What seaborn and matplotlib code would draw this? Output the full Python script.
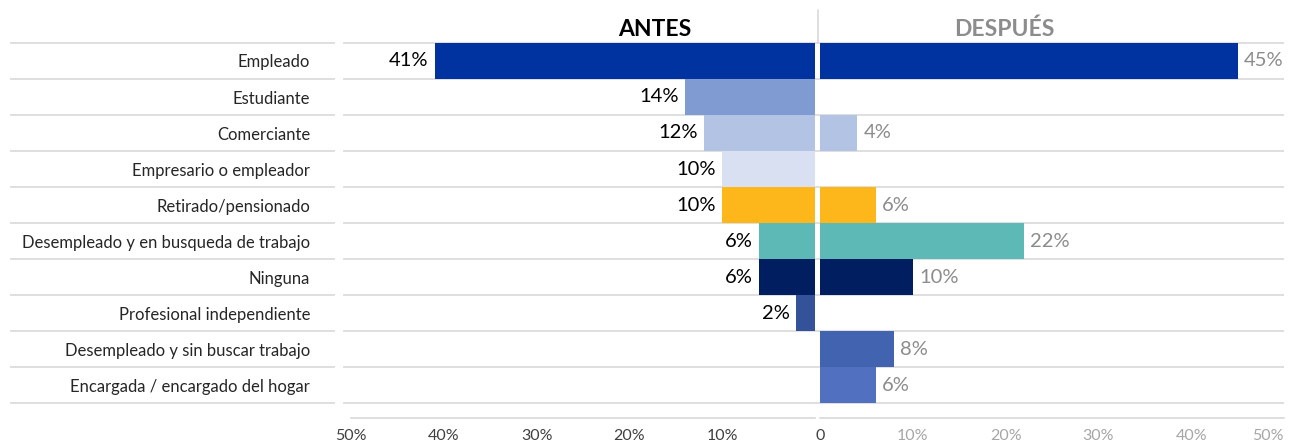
import matplotlib
matplotlib.use("Agg")
import matplotlib.pyplot as plt
import matplotlib.transforms as mtransforms
import seaborn as sns
import pandas as pd

categories = [
    "Empleado",
    "Estudiante",
    "Comerciante",
    "Empresario o empleador",
    "Retirado/pensionado",
    "Desempleado y en busqueda de trabajo",
    "Ninguna",
    "Profesional independiente",
    "Desempleado y sin buscar trabajo",
    "Encargada / encargado del hogar",
]
antes = [41, 14, 12, 10, 10, 6, 6, 2, 0, 0]
despues = [45, 0, 4, 0, 6, 22, 10, 0, 8, 6]
colors = ["#0033A0", "#7F9BD2", "#B3C3E4", "#D9E0F2", "#FDB71A",
          "#5DB9B5", "#001E60", "#34529A", "#4263B0", "#5171C0"]
tick_values = [0, 5, 10, 15, 20, 25, 30, 35, 40, 45, 50]
left_tick_labels = ["", "", "10%", "", "20%", "", "30%", "", "40%", "", "50%"]
right_tick_labels = ["0", "", "10%", "", "20%", "", "30%", "", "40%", "", "50%"]
title_left = "ANTES"
title_right = "DESPUÉS"

sns.set_theme(style="white")
plt.rcParams["font.family"] = ["Lato", "DejaVu Sans"]

df = pd.DataFrame({"categoria": categories, "antes": antes, "despues": despues})
palette = dict(zip(categories, colors))

W, H = 1295, 444
fig = plt.figure(figsize=(W / 100, H / 100), dpi=100)

def fx(px):
    return px / W

def fy(py):
    return 1 - py / H

y_top, y_bot = 43, 403
axL = fig.add_axes([fx(351), fy(y_bot), fx(464), (y_bot - y_top) / H])
axR = fig.add_axes([fx(820), fy(y_bot), fx(464), (y_bot - y_top) / H])

grid_c = "#D9D9D9"
for ax, col, lbl_color, inv in [(axL, "antes", "#000000", True),
                                (axR, "despues", "#8C8C8C", False)]:
    sns.barplot(data=df, x=col, y="categoria", hue="categoria", order=categories,
                hue_order=categories, palette=palette, orient="h", width=1.0,
                legend=False, errorbar=None, linewidth=0, saturation=1, ax=ax)
    if inv:
        ax.set_xlim(50, 0)
    else:
        ax.set_xlim(0, 50)
    ax.set_ylim(len(categories) - 0.5, -0.5)
    for c in ax.containers:
        labels = [f"{v:.0f}%" if v > 0 else "" for v in c.datavalues]
        ax.bar_label(c, labels=labels, padding=4.5, fontsize=14.5, color=lbl_color)
    for s in ["top", "right", "left"]:
        ax.spines[s].set_visible(False)
    ax.spines["bottom"].set_position(("outward", 10.8))
    ax.spines["bottom"].set_color(grid_c)
    ax.spines["bottom"].set_linewidth(1.2)
    ax.spines["bottom"].set_bounds(0, 50)
    ax.set_xticks(tick_values)
    ax.tick_params(axis="x", direction="in", length=6, width=1.2, color=grid_c,
                   labelsize=11.5, pad=8)
    ax.set_xlabel("")
    ax.set_ylabel("")
    ax.patch.set_alpha(0)

axL.set_xticklabels(left_tick_labels)
for t in axL.get_xticklabels():
    t.set_color("#404040")
axR.set_xticklabels(right_tick_labels)
rlabels = axR.get_xticklabels()
for i, t in enumerate(rlabels):
    t.set_color("#404040" if i == 0 else "#A6A6A6")
rlabels[-1].set_horizontalalignment("right")

axR.set_yticks([])
axL.tick_params(axis="y", length=0, pad=29.5, labelsize=12, labelcolor="#262626")

# horizontal row separators
bounds = [i - 0.5 for i in range(len(categories) + 1)]
trL = mtransforms.blended_transform_factory(fig.transFigure, axL.transData)
trR = mtransforms.blended_transform_factory(axR.transAxes, axR.transData)
axL.hlines(bounds, fx(10), fx(335), transform=trL, color=grid_c, lw=1.2,
           clip_on=False, zorder=0)
axL.hlines(bounds, fx(343), fx(820), transform=trL, color=grid_c, lw=1.2,
           clip_on=False, zorder=0)
axR.hlines(bounds, 0, 1, transform=trR, color=grid_c, lw=1.2, clip_on=False, zorder=0)

# vertical separator between panels (header area)
fig.add_artist(plt.Line2D([fx(818), fx(818)], [fy(10), fy(43)], color=grid_c, lw=1.2))

fig.text(fx(655), fy(29), title_left, ha="center", va="center", fontsize=16.5,
         fontweight="bold", color="#000000")
fig.text(fx(1004), fy(29), title_right, ha="center", va="center", fontsize=16.5,
         fontweight="bold", color="#8C8C8C")

fig.savefig("out.png", dpi=100)
